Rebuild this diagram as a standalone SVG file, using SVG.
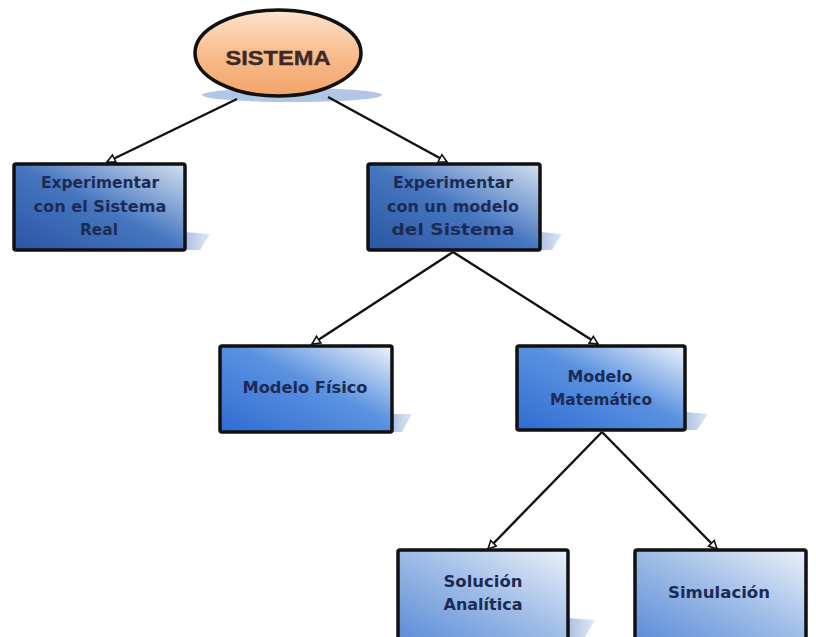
<svg xmlns="http://www.w3.org/2000/svg" width="816" height="637" viewBox="0 0 816 637">
  <defs>
    <linearGradient id="gDark" x1="0" y1="1" x2="1" y2="0">
      <stop offset="0" stop-color="#2a56a4"/>
      <stop offset="0.5" stop-color="#4676c0"/>
      <stop offset="1" stop-color="#d4e0ef"/>
    </linearGradient>
    <linearGradient id="gMid" x1="0" y1="1" x2="1" y2="0">
      <stop offset="0" stop-color="#2f6cd2"/>
      <stop offset="0.55" stop-color="#5b92e0"/>
      <stop offset="1" stop-color="#eef3fa"/>
    </linearGradient>
    <linearGradient id="gLight" x1="0" y1="1" x2="1" y2="0">
      <stop offset="0" stop-color="#5a8cd8"/>
      <stop offset="0.5" stop-color="#9dbbe6"/>
      <stop offset="1" stop-color="#eaf1fa"/>
    </linearGradient>
    <linearGradient id="gOrange" x1="0" y1="0" x2="0" y2="1">
      <stop offset="0" stop-color="#fde4cf"/>
      <stop offset="0.5" stop-color="#f9bd8f"/>
      <stop offset="1" stop-color="#f2a468"/>
    </linearGradient>
    <linearGradient id="gShadow" x1="0" y1="0" x2="1" y2="0">
      <stop offset="0" stop-color="#9fb6dc"/>
      <stop offset="1" stop-color="#dbe5f3"/>
    </linearGradient>
    <marker id="arr" markerWidth="12" markerHeight="12" refX="9" refY="5" orient="auto" markerUnits="userSpaceOnUse">
      <path d="M1,1 L9,5 L1,9 Z" fill="#ffffff" stroke="#111" stroke-width="1.6"/>
    </marker>
  </defs>
  <style>
    .box { stroke: #111; stroke-width: 3.5; }
    .shadow { fill: url(#gShadow); opacity: 0.85; }
    .lbl { font-family: "DejaVu Sans", "Liberation Sans", sans-serif; font-weight: bold; font-size: 15px; fill: #1c2b55; text-anchor: middle; }
    .conn { stroke: #111; stroke-width: 2.4; fill: none; marker-end: url(#arr); }
  </style>
  <rect width="816" height="637" fill="#ffffff"/>

  <g id="sistema">
    <ellipse cx="292" cy="95" rx="90" ry="7" fill="#a9bfe2" opacity="0.9"/>
    <ellipse cx="278" cy="53" rx="83" ry="43" fill="url(#gOrange)" stroke="#111" stroke-width="3.5"/>
    <text x="278" y="65" font-family="Liberation Sans, Arial, sans-serif" font-weight="bold" font-size="21" fill="#3a2a2a" stroke="#3a2a2a" stroke-width="0.4" text-anchor="middle" textLength="105" lengthAdjust="spacingAndGlyphs">SISTEMA</text>
  </g>

  <g id="connectors">
    <line class="conn" x1="237" y1="99" x2="107" y2="162"/>
    <line class="conn" x1="328" y1="97" x2="447" y2="162"/>
    <line class="conn" x1="453" y1="252" x2="312" y2="344"/>
    <line class="conn" x1="453" y1="252" x2="598" y2="344"/>
    <line class="conn" x1="602" y1="432" x2="488" y2="549"/>
    <line class="conn" x1="602" y1="432" x2="717" y2="549"/>
  </g>

  <g id="real">
    <polygon class="shadow" points="185,232 210,234 200,250 185,250"/>
    <rect class="box" x="14" y="164" width="171" height="86" rx="2" fill="url(#gDark)"/>
    <text class="lbl" x="100" y="188" textLength="118" lengthAdjust="spacingAndGlyphs">Experimentar</text>
    <text class="lbl" x="100" y="212" textLength="133" lengthAdjust="spacingAndGlyphs">con el Sistema</text>
    <text class="lbl" x="99" y="235" textLength="38" lengthAdjust="spacingAndGlyphs">Real</text>
  </g>

  <g id="modelo">
    <polygon class="shadow" points="540,232 562,234 552,250 540,250"/>
    <rect class="box" x="368" y="164" width="172" height="86" rx="2" fill="url(#gDark)"/>
    <text class="lbl" x="453" y="188" textLength="120" lengthAdjust="spacingAndGlyphs">Experimentar</text>
    <text class="lbl" x="453" y="212" textLength="132" lengthAdjust="spacingAndGlyphs">con un modelo</text>
    <text class="lbl" x="453" y="235" textLength="123" lengthAdjust="spacingAndGlyphs">del Sistema</text>
  </g>

  <g id="fisico">
    <polygon class="shadow" points="392,414 412,414 402,432 392,432"/>
    <rect class="box" x="220" y="346" width="172" height="86" rx="2" fill="url(#gMid)"/>
    <text class="lbl" x="305" y="393" textLength="125" lengthAdjust="spacingAndGlyphs">Modelo Físico</text>
  </g>

  <g id="matematico">
    <polygon class="shadow" points="685,412 708,414 697,430 685,430"/>
    <rect class="box" x="517" y="346" width="168" height="84" rx="2" fill="url(#gMid)"/>
    <text class="lbl" x="600" y="382" textLength="65" lengthAdjust="spacingAndGlyphs">Modelo</text>
    <text class="lbl" x="601" y="405" textLength="102" lengthAdjust="spacingAndGlyphs">Matemático</text>
  </g>

  <g id="analitica">
    <polygon class="shadow" points="568,618 595,620 585,637 568,637"/>
    <rect class="box" x="398" y="550" width="170" height="92" rx="2" fill="url(#gLight)"/>
    <text class="lbl" x="483" y="587" textLength="79" lengthAdjust="spacingAndGlyphs">Solución</text>
    <text class="lbl" x="483" y="610" textLength="79" lengthAdjust="spacingAndGlyphs">Analítica</text>
  </g>

  <g id="simulacion">
    <rect class="box" x="635" y="550" width="171" height="92" rx="2" fill="url(#gLight)"/>
    <text class="lbl" x="719" y="598" textLength="102" lengthAdjust="spacingAndGlyphs">Simulación</text>
  </g>
</svg>
